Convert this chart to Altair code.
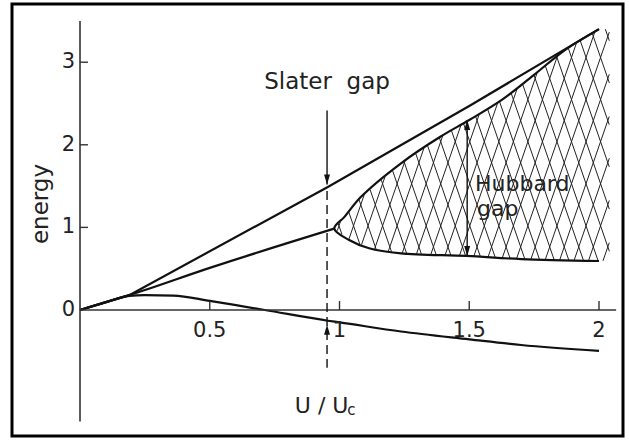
import altair as alt
import numpy as np
import pandas as pd

# ---- energy levels vs U/Uc ----
upper_x = [0.0, 0.1, 0.19, 0.955, 1.5, 2.0]
upper_y = [0.0, 0.095, 0.18, 1.49, 2.47, 3.40]

middle_x = [0.0, 0.1, 0.19, 0.5, 0.98]
middle_y = [0.0, 0.095, 0.18, 0.51, 0.985]

lower_x = [0.0, 0.1, 0.19, 0.25, 0.36, 0.5, 0.617, 0.712, 0.955, 1.0, 1.237, 1.5, 1.70, 2.0]
lower_y = [0.0, 0.095, 0.17, 0.18, 0.175, 0.11, 0.05, 0.0, -0.13, -0.15, -0.26, -0.355, -0.424, -0.496]

# Hubbard band edges (both start at the branch point)
band_lo_x = [0.98, 1.037, 1.114, 1.237, 1.49, 1.70, 2.0]
band_lo_y = [0.985, 0.847, 0.747, 0.686, 0.654, 0.617, 0.593]
band_hi_x = [0.98, 1.02, 1.083, 1.237, 1.39, 1.50, 1.624, 1.747, 1.87, 2.0]
band_hi_y = [0.985, 1.13, 1.37, 1.776, 2.10, 2.30, 2.54, 2.84, 3.15, 3.40]

# axis ticks
y_ticks = [1, 2, 3]
y_tick_labels = ["1", "2", "3"]
x_ticks = [0.5, 1.0, 1.5, 2.0]
x_tick_labels = ["0.5", "1", "1.5", "2"]

# markers
slater_x = 0.952
slater_top = 2.414
slater_tip = 1.52
slater_low_tip = -0.18
dashed_top = 1.44
dashed_bottom = -0.70
hubbard_x = 1.492
hubbard_lo = 0.654
hubbard_hi = 2.30

FONT = "DejaVu Sans"
INK = "#111"

xs = alt.Scale(domain=[-0.3083, 2.1156], nice=False, zero=False)
ys = alt.Scale(domain=[-1.574, 3.753], nice=False, zero=False)


def X(field="x"):
    return alt.X(f"{field}:Q", scale=xs, axis=None)


def Y(field="y"):
    return alt.Y(f"{field}:Q", scale=ys, axis=None)


def curve(name, cx, cy):
    return pd.DataFrame({"x": cx, "y": cy, "curve": name, "order": range(len(cx))})


upper_df = curve("upper", upper_x, upper_y)
curves = pd.concat([
    curve("middle", middle_x, middle_y),
    curve("lower", lower_x, lower_y),
])

# band outline as one path: lower edge right->left, then upper edge left->right
outline_x = band_lo_x[::-1] + band_hi_x[1:]
outline_y = band_lo_y[::-1] + band_hi_y[1:]
outline = curve("band", outline_x, outline_y)

# ---- cross-hatching of the Hubbard band ----
HATCH_DX = 0.056
HATCH_SLOPE = 9.1
HATCH_X_END = 2.04
tip_x = band_lo_x[0]


def band_lo(x):
    return np.interp(x, band_lo_x, band_lo_y)


def band_hi(x):
    return np.interp(x, band_hi_x, band_hi_y)


segs = []
for sign in (1, -1):
    for x0 in np.arange(0.55, 2.45, HATCH_DX):
        yy = np.linspace(0.5, 3.5, 600)
        xx = x0 + sign * yy / HATCH_SLOPE
        inside = (xx >= tip_x) & (xx <= HATCH_X_END) & (yy >= band_lo(xx)) & (yy <= band_hi(xx))
        idx = np.flatnonzero(inside)
        if idx.size == 0:
            continue
        runs = np.split(idx, np.flatnonzero(np.diff(idx) > 1) + 1)
        for r in runs:
            if r.size < 2:
                continue
            segs.append({"x": xx[r[0]], "y": yy[r[0]], "x2": xx[r[-1]], "y2": yy[r[-1]]})
hatch_df = pd.DataFrame(segs)

hatch = alt.Chart(hatch_df).mark_rule(color="#222", strokeWidth=1.0).encode(
    x=X(), y=Y(), x2="x2:Q", y2="y2:Q"
)

upper_line = alt.Chart(upper_df).mark_line(color=INK, strokeWidth=2.2, interpolate="linear").encode(
    x=X(), y=Y(), order="order:Q"
)
lines = alt.Chart(curves).mark_line(color=INK, strokeWidth=2.2, interpolate="monotone").encode(
    x=X(), y=Y(), detail="curve:N", order="order:Q"
)
band_line = alt.Chart(outline).mark_line(color=INK, strokeWidth=2.2, interpolate="catmull-rom").encode(
    x=X(), y=Y(), order="order:Q"
)

# ---- axes through the origin ----
axis_color = "#333"
y_axis = alt.Chart(pd.DataFrame({"x": [0.0], "y": [-1.35], "y2": [3.50]})).mark_rule(
    color=axis_color, strokeWidth=1.6
).encode(x=X(), y=Y(), y2="y2:Q")
x_axis = alt.Chart(pd.DataFrame({"x": [0.0], "x2": [2.066], "y": [0.0]})).mark_rule(
    color=axis_color, strokeWidth=1.6
).encode(x=X(), x2="x2:Q", y=Y())

ytick_df = pd.DataFrame({"y": y_ticks, "label": y_tick_labels})
xtick_df = pd.DataFrame({"x": x_ticks, "label": x_tick_labels})

y_tick_marks = alt.Chart(ytick_df).mark_rule(color=axis_color, strokeWidth=1.4, x2Offset=8).encode(
    x=alt.X(datum=0, scale=xs, axis=None), x2=alt.X2(datum=0), y=Y()
)
x_tick_marks = alt.Chart(xtick_df).mark_rule(color=axis_color, strokeWidth=1.4, y2Offset=-9).encode(
    y=alt.Y(datum=0, scale=ys, axis=None), y2=alt.Y2(datum=0), x=X()
)

y_labels = alt.Chart(pd.concat([ytick_df, pd.DataFrame({"y": [0], "label": ["0"]})])).mark_text(
    align="right", baseline="middle", dx=-5, font=FONT, fontSize=21, color="#222"
).encode(x=alt.X(datum=0, scale=xs, axis=None), y=Y(), text="label:N")
x_labels = alt.Chart(xtick_df).mark_text(
    align="center", baseline="alphabetic", dy=27, font=FONT, fontSize=21, color="#222"
).encode(y=alt.Y(datum=0, scale=ys, axis=None), x=X(), text="label:N")

# ---- dashed marker and arrows ----
dashed = alt.Chart(pd.DataFrame({"x": [slater_x], "y": [dashed_top], "y2": [dashed_bottom]})).mark_rule(
    color=INK, strokeWidth=1.4, strokeDash=[9, 5]
).encode(x=X(), y=Y(), y2="y2:Q")

shafts = alt.Chart(pd.DataFrame({
    "x": [slater_x, hubbard_x],
    "y": [slater_top, hubbard_hi],
    "y2": [slater_tip, hubbard_lo],
})).mark_rule(color=INK, strokeWidth=1.4).encode(x=X(), y=Y(), y2="y2:Q")

HEAD_DOWN = "M0,0 L-0.3,-1 L0.3,-1 Z"
HEAD_UP = "M0,0 L-0.3,1 L0.3,1 Z"
heads_down = alt.Chart(pd.DataFrame({"x": [slater_x, hubbard_x], "y": [slater_tip, hubbard_lo]})).mark_point(
    shape=HEAD_DOWN, filled=True, color=INK, size=400, opacity=1
).encode(x=X(), y=Y())
heads_up = alt.Chart(pd.DataFrame({"x": [slater_x, hubbard_x], "y": [slater_low_tip, hubbard_hi]})).mark_point(
    shape=HEAD_UP, filled=True, color=INK, size=400, opacity=1
).encode(x=X(), y=Y())

# ---- annotations ----
text_size = 23
slater_text = alt.Chart(pd.DataFrame({"x": [0.952], "y": [2.672], "t": ["Slater\u00a0 gap"]})).mark_text(
    align="center", baseline="alphabetic", font=FONT, fontSize=text_size, color="#222"
).encode(x=X(), y=Y(), text="t:N")
hubbard_text = alt.Chart(pd.DataFrame({"x": [1.522, 1.530], "y": [1.440, 1.135], "t": ["Hubbard", "gap"]})).mark_text(
    align="left", baseline="alphabetic", font=FONT, fontSize=22, color="#222"
).encode(x=X(), y=Y(), text="t:N")
energy_text = alt.Chart(pd.DataFrame({"x": [-0.123], "y": [1.283], "t": ["energy"]})).mark_text(
    align="center", baseline="alphabetic", angle=270, font=FONT, fontSize=text_size, color="#222"
).encode(x=X(), y=Y(), text="t:N")
u_text = alt.Chart(pd.DataFrame({"x": [0.828], "y": [-1.247], "t": ["U / U"]})).mark_text(
    align="left", baseline="alphabetic", font=FONT, fontSize=22, color="#222"
).encode(x=X(), y=Y(), text="t:N")
uc_sub = alt.Chart(pd.DataFrame({"x": [1.03], "y": [-1.247], "t": ["c"]})).mark_text(
    align="left", baseline="alphabetic", dy=2, font=FONT, fontSize=15, color="#222"
).encode(x=X(), y=Y(), text="t:N")

frame = alt.Chart(pd.DataFrame({"k": [0]})).mark_rect(
    fillOpacity=0, stroke="#000", strokeWidth=3
).encode(x=alt.value(12), x2=alt.value(623), y=alt.value(4), y2=alt.value(436))

chart = alt.layer(
    hatch, band_line, upper_line, lines, y_axis, x_axis, y_tick_marks, x_tick_marks, y_labels, x_labels,
    dashed, shafts, heads_down, heads_up, slater_text, hubbard_text, energy_text, u_text, uc_sub, frame
).properties(
    width=629, height=440, padding=0, autosize=alt.AutoSizeParams(type="none"), background="white"
).configure_view(stroke="transparent")

chart.save("out.html", embed_options={"renderer": "svg", "actions": False})
